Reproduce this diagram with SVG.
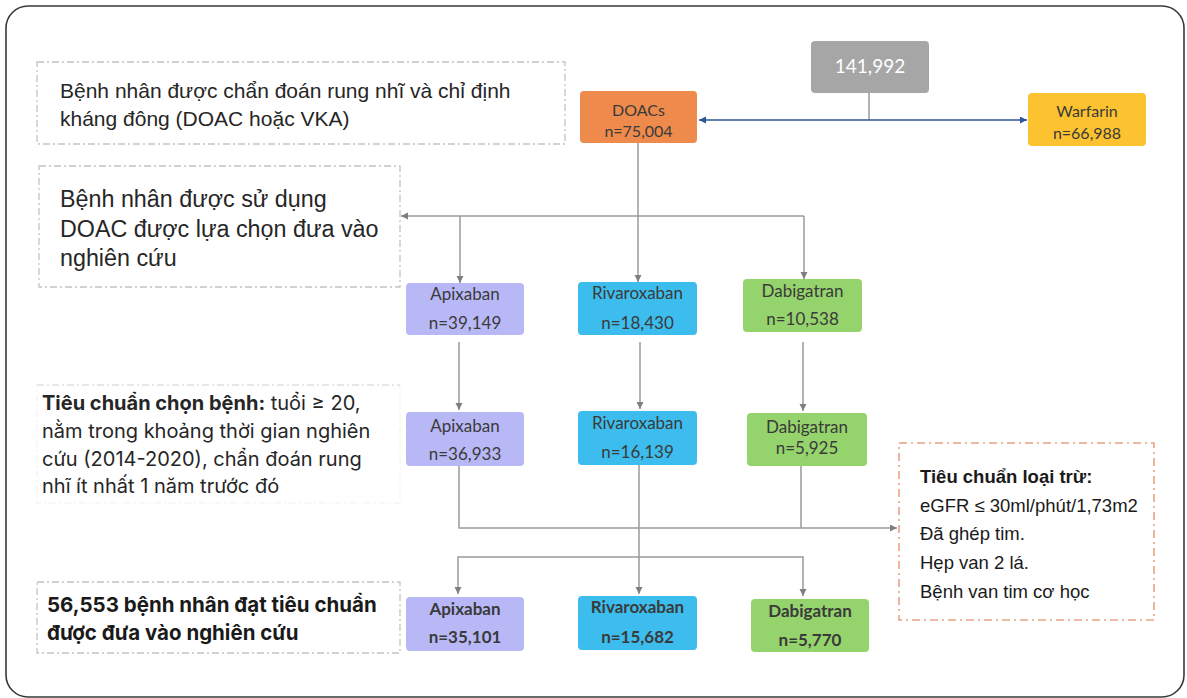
<svg xmlns="http://www.w3.org/2000/svg" width="1187" height="698" viewBox="0 0 1187 698">
<defs>
<marker id="ag" markerWidth="8" markerHeight="8" refX="7" refY="3.5" orient="auto" markerUnits="userSpaceOnUse"><path d="M0,0 L7,3.5 L0,7 z" fill="#7f7f7f"/></marker>
<marker id="ab" markerWidth="8" markerHeight="8" refX="7" refY="3.5" orient="auto" markerUnits="userSpaceOnUse"><path d="M0,0 L7,3.5 L0,7 z" fill="#2f5597"/></marker>
<style>
.frame{fill:#fff;stroke:#3a3a3a;stroke-width:1.6}
.dbox{fill:none;stroke:#c4c4c4;stroke-width:1.3;stroke-dasharray:7 3 2 3}
.fbox{fill:none;stroke:#f2f2f2;stroke-width:1.2;stroke-dasharray:7 3 2 3}
.ebox{fill:none;stroke:#e9a383;stroke-width:1.6;stroke-dasharray:8 4 2 4}
.con{fill:none;stroke:#9a9a9a;stroke-width:1.5}
.blue{fill:none;stroke:#2f5597;stroke-width:1.3}
.t1{font-family:"Liberation Sans",Arial,sans-serif;font-size:21px;fill:#262626}
.t2{font-family:"Liberation Sans",Arial,sans-serif;font-size:23.3px;fill:#262626}
.t3{font-family:Inter,"Liberation Sans",sans-serif;font-size:20px;fill:#262626}
.t4{font-family:Inter,"Liberation Sans",sans-serif;font-size:20.5px;font-weight:700;fill:#1a1a1a}
.te{font-family:"Liberation Sans",Arial,sans-serif;font-size:18.5px;fill:#1a1a1a}
.lb{font-family:Lato,"Liberation Sans",sans-serif;font-size:17px;fill:#3a3a3a;text-anchor:middle}
.lbs{font-family:Lato,"Liberation Sans",sans-serif;font-size:16px;fill:#3a3a3a;text-anchor:middle}
.bd{font-weight:700}
.apx{fill:#b8b8f6}
.riv{fill:#3cbdee}
.dab{fill:#95d36c}
</style>
</defs>
<rect class="frame" x="6" y="6" width="1178" height="691" rx="22"/>

<g id="note1">
<rect class="dbox" x="37" y="62" width="528" height="82"/>
<text class="t1" x="60" y="98">Bệnh nhân được chẩn đoán rung nhĩ và chỉ định</text>
<text class="t1" x="60" y="126">kháng đông (DOAC hoặc VKA)</text>
</g>
<g id="note2">
<rect class="dbox" x="39" y="166" width="361" height="121"/>
<text class="t2" x="60" y="207">Bệnh nhân được sử dụng</text>
<text class="t2" x="60" y="237">DOAC được lựa chọn đưa vào</text>
<text class="t2" x="60" y="266">nghiên cứu</text>
</g>
<g id="note3">
<rect class="fbox" x="37" y="385" width="363" height="118"/>
<line x1="37" y1="385" x2="400" y2="385" stroke="#d6d6d6" stroke-width="1.2" stroke-dasharray="7 3 2 3"/>
<text class="t3" x="42" y="410"><tspan font-weight="700">Tiêu chuẩn chọn bệnh:</tspan> tuổi ≥ 20,</text>
<text class="t3" x="42" y="438">nằm trong khoảng thời gian nghiên</text>
<text class="t3" x="42" y="466">cứu (2014-2020), chẩn đoán rung</text>
<text class="t3" x="42" y="493">nhĩ ít nhất 1 năm trước đó</text>
</g>
<g id="note4">
<rect class="dbox" x="37" y="582" width="363" height="71"/>
<text class="t4" x="47" y="612">56,553 bệnh nhân đạt tiêu chuẩn</text>
<text class="t4" x="47" y="640">được đưa vào nghiên cứu</text>
</g>
<g id="exclusion">
<rect class="ebox" x="899" y="443" width="255" height="177"/>
<text class="te bd" x="920" y="483">Tiêu chuẩn loại trừ:</text>
<text class="te" x="920" y="512">eGFR ≤ 30ml/phút/1,73m2</text>
<text class="te" x="920" y="540">Đã ghép tim.</text>
<text class="te" x="920" y="569">Hẹp van 2 lá.</text>
<text class="te" x="920" y="598">Bệnh van tim cơ học</text>
</g>

<g id="connectors">
<path class="con" d="M869,93 V120"/>
<path class="blue" d="M869,120 H699" marker-end="url(#ab)"/>
<path class="blue" d="M869,120 H1027" marker-end="url(#ab)"/>
<path class="con" d="M638,143 V216"/>
<path class="con" d="M804,216 H401" marker-end="url(#ag)"/>
<path class="con" d="M460,216 V283" marker-end="url(#ag)"/>
<path class="con" d="M638,216 V282" marker-end="url(#ag)"/>
<path class="con" d="M804,216 V279" marker-end="url(#ag)"/>
<path class="con" d="M459,342 V410" marker-end="url(#ag)"/>
<path class="con" d="M640,342 V409" marker-end="url(#ag)"/>
<path class="con" d="M803,342 V411" marker-end="url(#ag)"/>
<path class="con" d="M459,466 V528 H897" marker-end="url(#ag)"/>
<path class="con" d="M801,466 V528"/>
<path class="con" d="M639,465 V594" marker-end="url(#ag)"/>
<path class="con" d="M639,557 H458 V594" marker-end="url(#ag)"/>
<path class="con" d="M639,557 H803 V596" marker-end="url(#ag)"/>
</g>

<g id="total">
<rect x="811" y="41" width="118" height="52" rx="4" fill="#a6a6a6"/>
<text class="lb" x="870" y="73" style="fill:#fff;font-size:19px">141,992</text>
</g>
<g id="doacs">
<rect x="580" y="91" width="117" height="52" rx="4" fill="#ee8a4b"/>
<text class="lbs" x="638.5" y="116">DOACs</text>
<text class="lbs" x="638.5" y="137">n=75,004</text>
</g>
<g id="warfarin">
<rect x="1028" y="93" width="118" height="53" rx="4" fill="#fcc22f"/>
<text class="lbs" x="1087" y="117">Warfarin</text>
<text class="lbs" x="1087" y="139">n=66,988</text>
</g>

<g id="apix1"><rect class="apx" x="406" y="283" width="118" height="52" rx="4"/>
<text class="lb" x="465" y="300">Apixaban</text><text class="lb" x="465" y="329">n=39,149</text></g>
<g id="riva1"><rect class="riv" x="578" y="282" width="119" height="53" rx="4"/>
<text class="lb" x="637.5" y="299">Rivaroxaban</text><text class="lb" x="637.5" y="329">n=18,430</text></g>
<g id="dabi1"><rect class="dab" x="743" y="279" width="119" height="53" rx="4"/>
<text class="lb" x="802.5" y="297">Dabigatran</text><text class="lb" x="802.5" y="325">n=10,538</text></g>

<g id="apix2"><rect class="apx" x="406" y="412" width="118" height="54" rx="4"/>
<text class="lb" x="465" y="432">Apixaban</text><text class="lb" x="465" y="460">n=36,933</text></g>
<g id="riva2"><rect class="riv" x="578" y="411" width="119" height="54" rx="4"/>
<text class="lb" x="637.5" y="429">Rivaroxaban</text><text class="lb" x="637.5" y="458">n=16,139</text></g>
<g id="dabi2"><rect class="dab" x="747" y="413" width="120" height="53" rx="4"/>
<text class="lb" x="807" y="433">Dabigatran</text><text class="lb" x="807" y="454">n=5,925</text></g>

<g id="apix3"><rect class="apx" x="406" y="597" width="118" height="54" rx="4"/>
<text class="lb bd" x="465" y="615">Apixaban</text><text class="lb bd" x="465" y="643">n=35,101</text></g>
<g id="riva3"><rect class="riv" x="578" y="596" width="119" height="54" rx="4"/>
<text class="lb bd" x="637.5" y="613">Rivaroxaban</text><text class="lb bd" x="637.5" y="643">n=15,682</text></g>
<g id="dabi3"><rect class="dab" x="751" y="599" width="118" height="53" rx="4"/>
<text class="lb bd" x="810" y="617">Dabigatran</text><text class="lb bd" x="810" y="646">n=5,770</text></g>
</svg>
